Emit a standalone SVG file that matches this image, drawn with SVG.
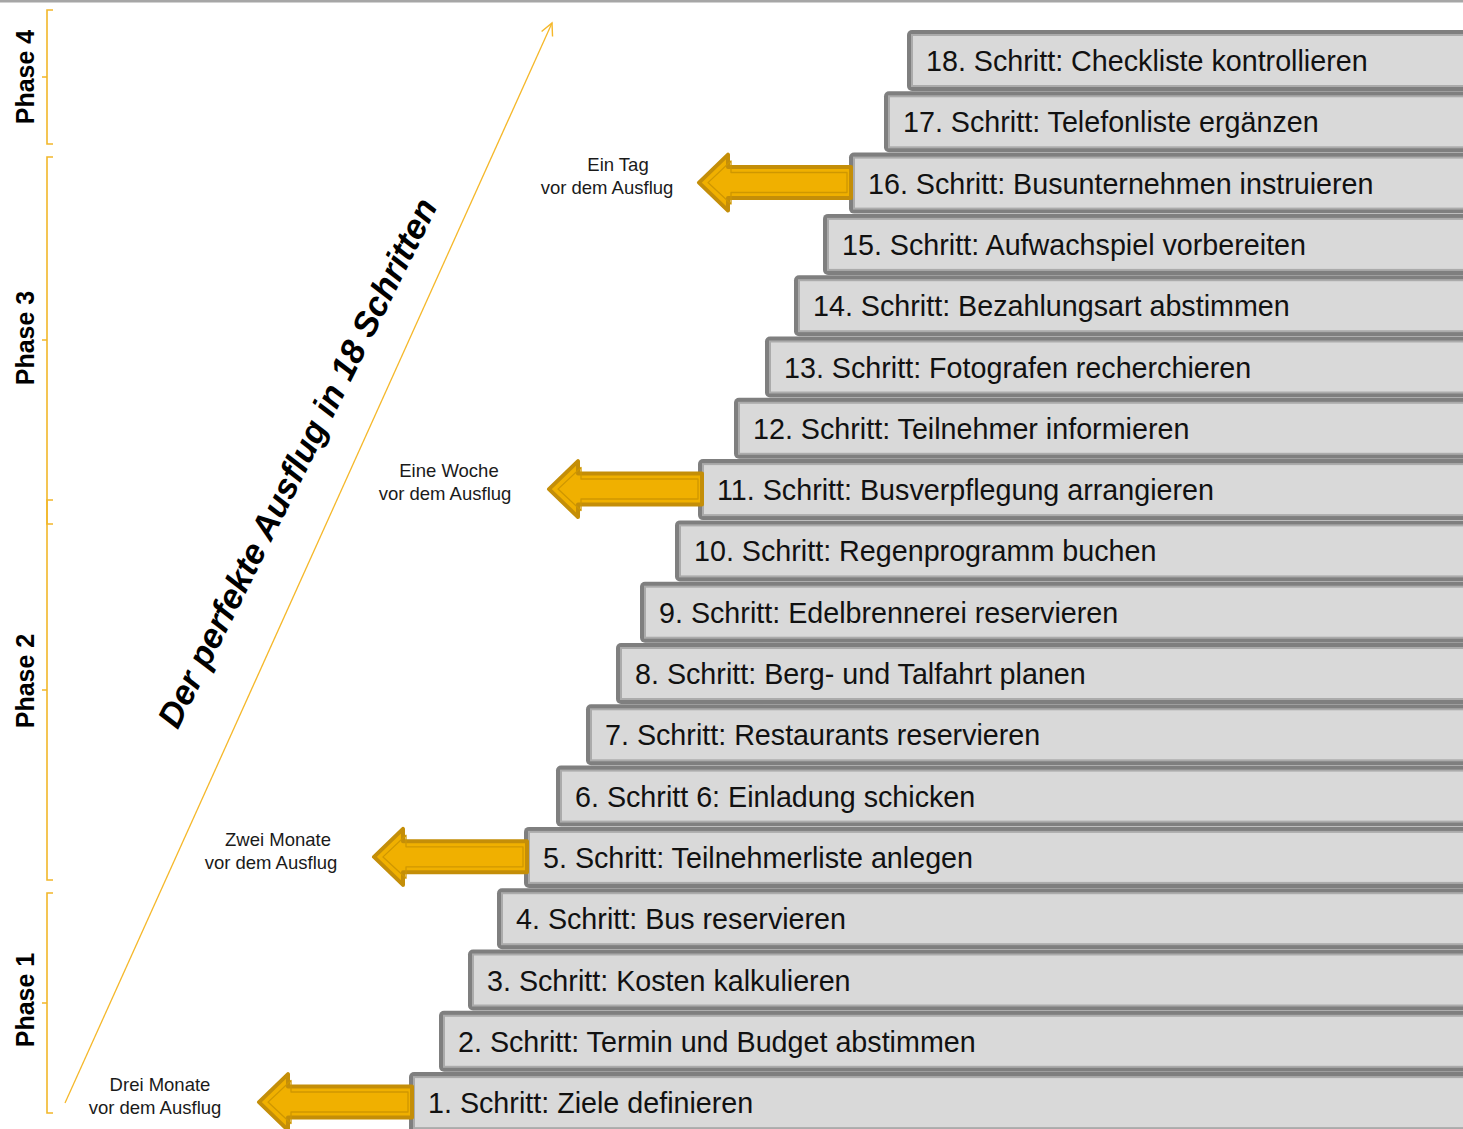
<svg xmlns="http://www.w3.org/2000/svg" width="1463" height="1129" viewBox="0 0 1463 1129">
<style>
.bo{fill:#7f7f7f}
.bi{fill:#d9d9d9;stroke:#ababab;stroke-width:2}
.bt{font-family:"Liberation Sans",Arial,sans-serif;font-size:28.7px;fill:#111}
.ar{fill:#f0b000;stroke:#c48e08;stroke-width:4;stroke-linejoin:round}
.ai{fill:none;stroke:#cf9700;stroke-width:1.3;stroke-linejoin:round}
.lb{font-family:"Liberation Sans",Arial,sans-serif;font-size:18.5px;fill:#1a1a1a;text-anchor:middle}
.ph{font-family:"Liberation Sans",Arial,sans-serif;font-size:25px;font-weight:bold;fill:#000;text-anchor:middle}
.br{fill:none;stroke:#f2b72a;stroke-width:1.6}
</style>
<defs>
<marker id="open" markerWidth="16" markerHeight="16" refX="14" refY="8" orient="auto" markerUnits="userSpaceOnUse">
<path d="M2,2 L14,8 L2,14" fill="none" stroke="#f5b82a" stroke-width="1.4"/>
</marker>
</defs>
<rect x="0" y="0" width="1463" height="1129" fill="#fff"/>
<rect x="0" y="0" width="1463" height="2.5" fill="#a6a6a6"/>

<g id="phases">
<path class="br" d="M53,10 H47 V144 H53 M47,77 H42"/>
<path class="br" d="M53,157 H47 V524 H53 M47,340 H42"/>
<path class="br" d="M53,500 H47 V880 H53 M47,690 H42"/>
<path class="br" d="M53,893 H47 V1113 H53 M47,1003 H42"/>
<text class="ph" transform="translate(34,77) rotate(-90)">Phase 4</text>
<text class="ph" transform="translate(34,338) rotate(-90)">Phase 3</text>
<text class="ph" transform="translate(34,681) rotate(-90)">Phase 2</text>
<text class="ph" transform="translate(34,1000) rotate(-90)">Phase 1</text>
</g>

<g id="connectors">
<line x1="65" y1="1103" x2="552" y2="23" stroke="#f5b82a" stroke-width="1.3" marker-end="url(#open)"/>
</g>

<g id="title">
<text transform="translate(308,468) rotate(-63.6)" text-anchor="middle" font-family="Liberation Sans,Arial,sans-serif" font-size="34.5" font-weight="bold" font-style="italic" fill="#000">Der perfekte Ausflug in 18 Schritten</text>
</g>

<g id="step18"><rect class="bo" x="907" y="30" width="700" height="61" rx="5"/><rect class="bi" x="912" y="35" width="700" height="51"/><text class="bt" x="926" y="71">18. Schritt: Checkliste kontrollieren</text></g>
<g id="step17"><rect class="bo" x="884" y="91.3" width="700" height="61" rx="5"/><rect class="bi" x="889" y="96.3" width="700" height="51"/><text class="bt" x="903" y="132.3">17. Schritt: Telefonliste ergänzen</text></g>
<g id="step16"><rect class="bo" x="849" y="152.6" width="700" height="61" rx="5"/><rect class="bi" x="854" y="157.6" width="700" height="51"/><text class="bt" x="868" y="193.6">16. Schritt: Busunternehmen instruieren</text></g>
<g id="step15"><rect class="bo" x="823" y="213.9" width="700" height="61" rx="5"/><rect class="bi" x="828" y="218.9" width="700" height="51"/><text class="bt" x="842" y="254.9">15. Schritt: Aufwachspiel vorbereiten</text></g>
<g id="step14"><rect class="bo" x="794" y="275.2" width="700" height="61" rx="5"/><rect class="bi" x="799" y="280.2" width="700" height="51"/><text class="bt" x="813" y="316.2">14. Schritt: Bezahlungsart abstimmen</text></g>
<g id="step13"><rect class="bo" x="765" y="336.5" width="800" height="61" rx="5"/><rect class="bi" x="770" y="341.5" width="800" height="51"/><text class="bt" x="784" y="377.5">13. Schritt: Fotografen recherchieren</text></g>
<g id="step12"><rect class="bo" x="734" y="397.8" width="800" height="61" rx="5"/><rect class="bi" x="739" y="402.8" width="800" height="51"/><text class="bt" x="753" y="438.8">12. Schritt: Teilnehmer informieren</text></g>
<g id="step11"><rect class="bo" x="698" y="459.1" width="800" height="61" rx="5"/><rect class="bi" x="703" y="464.1" width="800" height="51"/><text class="bt" x="717" y="500.1">11. Schritt: Busverpflegung arrangieren</text></g>
<g id="step10"><rect class="bo" x="675" y="520.4" width="900" height="61" rx="5"/><rect class="bi" x="680" y="525.4" width="900" height="51"/><text class="bt" x="694" y="561.4">10. Schritt: Regenprogramm buchen</text></g>
<g id="step9"><rect class="bo" x="640" y="581.7" width="900" height="61" rx="5"/><rect class="bi" x="645" y="586.7" width="900" height="51"/><text class="bt" x="659" y="622.7">9. Schritt: Edelbrennerei reservieren</text></g>
<g id="step8"><rect class="bo" x="616" y="643" width="900" height="61" rx="5"/><rect class="bi" x="621" y="648" width="900" height="51"/><text class="bt" x="635" y="684">8. Schritt: Berg- und Talfahrt planen</text></g>
<g id="step7"><rect class="bo" x="586" y="704.3" width="900" height="61" rx="5"/><rect class="bi" x="591" y="709.3" width="900" height="51"/><text class="bt" x="605" y="745.3">7. Schritt: Restaurants reservieren</text></g>
<g id="step6"><rect class="bo" x="556" y="765.6" width="950" height="61" rx="5"/><rect class="bi" x="561" y="770.6" width="950" height="51"/><text class="bt" x="575" y="806.6">6. Schritt 6: Einladung schicken</text></g>
<g id="step5"><rect class="bo" x="524" y="826.9" width="1000" height="61" rx="5"/><rect class="bi" x="529" y="831.9" width="1000" height="51"/><text class="bt" x="543" y="867.9">5. Schritt: Teilnehmerliste anlegen</text></g>
<g id="step4"><rect class="bo" x="497" y="888.2" width="1000" height="61" rx="5"/><rect class="bi" x="502" y="893.2" width="1000" height="51"/><text class="bt" x="516" y="929.2">4. Schritt: Bus reservieren</text></g>
<g id="step3"><rect class="bo" x="468" y="949.5" width="1050" height="61" rx="5"/><rect class="bi" x="473" y="954.5" width="1050" height="51"/><text class="bt" x="487" y="990.5">3. Schritt: Kosten kalkulieren</text></g>
<g id="step2"><rect class="bo" x="439" y="1010.8" width="1050" height="61" rx="5"/><rect class="bi" x="444" y="1015.8" width="1050" height="51"/><text class="bt" x="458" y="1051.8">2. Schritt: Termin und Budget abstimmen</text></g>
<g id="step1"><rect class="bo" x="409" y="1072.1" width="1100" height="61" rx="5"/><rect class="bi" x="414" y="1077.1" width="1100" height="51"/><text class="bt" x="428" y="1113.1">1. Schritt: Ziele definieren</text></g>

<g id="arrow16">
<path class="ar" d="M699,182.6 L728,154.6 L728,167 L851,167 L851,198 L728,198 L728,210.6 Z"/>
<path class="ai" d="M708,182.6 L731,161 L731,172.5 L847,172.5 L847,192.5 L731,192.5 L731,204 Z"/>
<text class="lb" x="618" y="170.5">Ein Tag</text>
<text class="lb" x="607" y="193.5">vor dem Ausflug</text>
</g>
<g id="arrow11">
<path class="ar" d="M549,489.1 L578,461.1 L578,473.5 L702,473.5 L702,504.5 L578,504.5 L578,517.1 Z"/>
<path class="ai" d="M558,489.1 L581,467.5 L581,479 L698,479 L698,499 L581,499 L581,510.5 Z"/>
<text class="lb" x="449" y="477">Eine Woche</text>
<text class="lb" x="445" y="500">vor dem Ausflug</text>
</g>
<g id="arrow5">
<path class="ar" d="M374,856.9 L403,828.9 L403,841.3 L527,841.3 L527,872.3 L403,872.3 L403,884.9 Z"/>
<path class="ai" d="M383,856.9 L406,835.3 L406,846.8 L523,846.8 L523,866.8 L406,866.8 L406,878.3 Z"/>
<text class="lb" x="278" y="845.5">Zwei Monate</text>
<text class="lb" x="271" y="868.5">vor dem Ausflug</text>
</g>
<g id="arrow1">
<path class="ar" d="M259,1102.1 L288,1074.1 L288,1086.5 L412,1086.5 L412,1117.5 L288,1117.5 L288,1130.1 Z"/>
<path class="ai" d="M268,1102.1 L291,1080.5 L291,1092 L408,1092 L408,1112 L291,1112 L291,1123.5 Z"/>
<text class="lb" x="160" y="1090.5">Drei Monate</text>
<text class="lb" x="155" y="1113.5">vor dem Ausflug</text>
</g>
</svg>
